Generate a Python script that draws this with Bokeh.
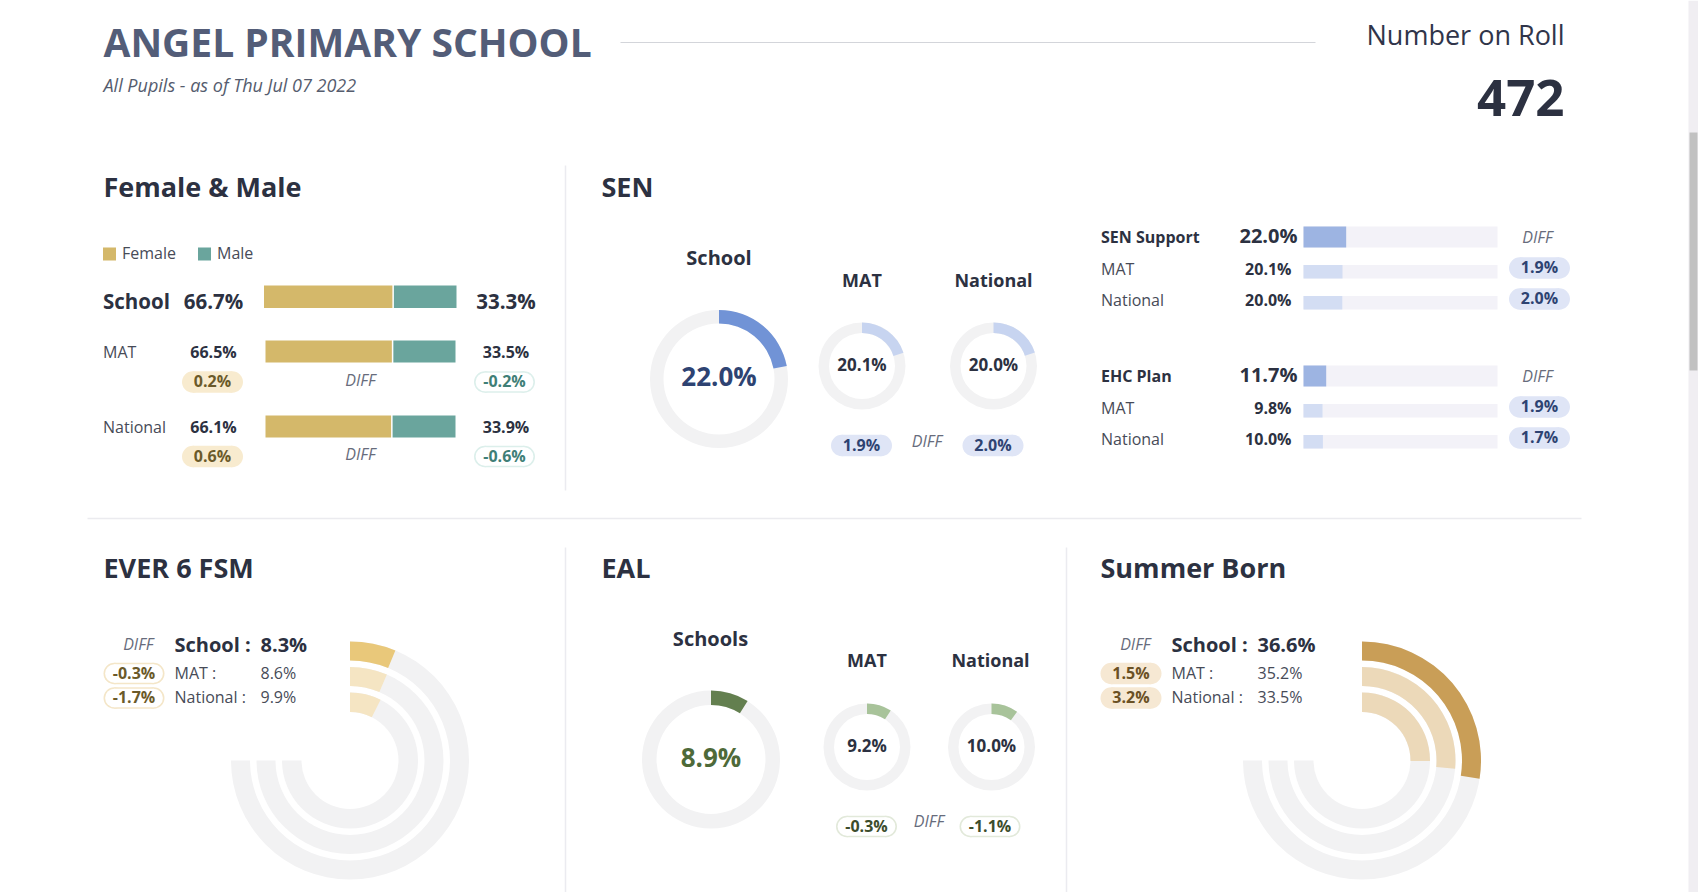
from bokeh.plotting import figure
from bokeh.models import Range1d
from bokeh.core.properties import value
from bokeh.embed import file_html
from bokeh.resources import INLINE
import math

# ---------------- data ----------------
school_name = "ANGEL PRIMARY SCHOOL"
subtitle = "All Pupils - as of Thu Jul 07 2022"
roll_label = "Number on Roll"
number_on_roll = 472

gender_groups = ["School", "MAT", "National"]
female_pct = [66.7, 66.5, 66.1]
male_pct = [33.3, 33.5, 33.9]
female_diff = [0.2, 0.6]
male_diff = [-0.2, -0.6]

sen_groups = ["School", "MAT", "National"]
sen_pct = [22.0, 20.1, 20.0]
sen_diff = [1.9, 2.0]

sen_support_groups = ["SEN Support", "MAT", "National"]
sen_support_pct = [22.0, 20.1, 20.0]
sen_support_diff = [1.9, 2.0]
ehc_groups = ["EHC Plan", "MAT", "National"]
ehc_pct = [11.7, 9.8, 10.0]
ehc_diff = [1.9, 1.7]

ring_groups = ["School :", "MAT :", "National :"]
fsm_pct = [8.3, 8.6, 9.9]
fsm_diff = [-0.3, -1.7]

eal_groups = ["Schools", "MAT", "National"]
eal_pct = [8.9, 9.2, 10.0]
eal_diff = [-0.3, -1.1]

summer_pct = [36.6, 35.2, 33.5]
summer_diff = [1.5, 3.2]

# ---------------- canvas ----------------
W, H = 1698, 892
FONT = value("Open Sans")
DARK = "#2c3141"
GRAY = "#474b57"
DIFFC = "#676c7c"
RING_BG = "#f2f2f3"
TXT_SHIFT = 1.5

p = figure(width=W, height=H, output_backend="svg", toolbar_location=None,
           x_range=Range1d(0, W), y_range=Range1d(0, H), min_border=0,
           background_fill_color="white", border_fill_color="white")
p.axis.visible = False
p.grid.visible = False
p.outline_line_color = None


def Y(y):
    return H - y


def fmt(v):
    return f"{v:.1f}%"


def txt(x, y, s, size, color=DARK, style="normal", align="left"):
    p.text(x=[x], y=[Y(y - TXT_SHIFT)], text=[s], text_font=FONT,
           text_font_size=f"{size}px", text_color=color, text_font_style=style,
           text_align=align, text_baseline="middle")


def box(x0, x1, y0, y1, color):
    p.quad(left=[x0], right=[x1], top=[Y(y0)], bottom=[Y(y1)],
           fill_color=color, line_color=None)


def pill(cx, cy, label, fill, text_color, border=None, w=61, h=21.5):
    r = h / 2
    layers = [(border, 0), (fill, 1.6)] if border else [(fill, 0)]
    for col, inset in layers:
        rr = r - inset
        box(cx - w / 2 + r, cx + w / 2 - r, cy - rr, cy + rr, col)
        p.circle(x=[cx - w / 2 + r, cx + w / 2 - r], y=[Y(cy), Y(cy)],
                 radius=rr, radius_units="screen", fill_color=col, line_color=None)
    txt(cx, cy + 0.5, label, 16, text_color, "bold", "center")


def donut(cx, cy, r_in, r_out, pct, color):
    p.annulus(x=[cx], y=[Y(cy)], inner_radius=r_in, outer_radius=r_out,
              inner_radius_units="screen", outer_radius_units="screen",
              fill_color=RING_BG, line_color=None)
    p.annular_wedge(x=[cx], y=[Y(cy)], inner_radius=r_in, outer_radius=r_out,
                    inner_radius_units="screen", outer_radius_units="screen",
                    start_angle=math.pi / 2,
                    end_angle=math.pi / 2 - pct / 100 * 2 * math.pi,
                    direction="clock", fill_color=color, line_color=None)


def gauge(cx, cy, pcts, colors):
    radii = [(100, 119), (74.5, 93.5), (48.5, 68)]
    for (ri, ro), v, col in zip(radii, pcts, colors):
        p.annular_wedge(x=[cx], y=[Y(cy)], inner_radius=ri, outer_radius=ro,
                        inner_radius_units="screen", outer_radius_units="screen",
                        start_angle=math.pi / 2, end_angle=math.pi,
                        direction="clock", fill_color=RING_BG, line_color=None)
        p.annular_wedge(x=[cx], y=[Y(cy)], inner_radius=ri, outer_radius=ro,
                        inner_radius_units="screen", outer_radius_units="screen",
                        start_angle=math.pi / 2,
                        end_angle=math.pi / 2 - v / 100 * 1.5 * math.pi,
                        direction="clock", fill_color=col, line_color=None)


# ---------------- header ----------------
txt(103, 42, school_name, 39, "#535d78", "bold")
p.line(x=[620, 1315], y=[Y(42), Y(42)], line_color="#d3d5da", line_width=1.2)
txt(103, 86, subtitle, 18, "#555c6e", "italic")
txt(1564, 35, roll_label, 27, "#30354a", "normal", "right")
txt(1564, 99, str(number_on_roll), 51, DARK, "bold", "right")

# separators
p.line(x=[87, 1581], y=[Y(518), Y(518)], line_color="#ebebef", line_width=1.5)
for x, y0, y1 in [(565, 165, 490), (565, 547, 892), (1066, 547, 892)]:
    p.line(x=[x, x], y=[Y(y0), Y(y1)], line_color="#ebebf0", line_width=1.5)

# section titles
for x, y, s in [(103, 187, "Female & Male"), (601, 187, "SEN"),
                (103, 568, "EVER 6 FSM"), (601, 568, "EAL"), (1100, 568, "Summer Born")]:
    txt(x, y, s, 27, DARK, "bold")

# ---------------- Female & Male ----------------
FEM, MAL = "#d4b86a", "#6aa59d"
box(102.5, 115.5, 247, 260, FEM)
txt(121.5, 254, "Female", 16, GRAY)
box(197.5, 210.5, 247, 260, MAL)
txt(216.5, 254, "Male", 16, GRAY)

rows_y = [301.5, 352.5, 427.5]
for i, (g, f, m) in enumerate(zip(gender_groups, female_pct, male_pct)):
    y = rows_y[i]
    big = i == 0
    if big:
        x0, x1, by0, by1 = 263.5, 456, 285, 307.5
    else:
        x0, x1, by0, by1 = 265, 455, y - 12.5, y + 9.5
    split = x0 + (x1 - x0) * f / (f + m)
    box(x0, split, by0, by1, FEM)
    box(split + 1.5, x1, by0, by1, MAL)
    txt(102.5, y, g, 20.5 if big else 16, DARK if big else GRAY, "bold" if big else "normal")
    txt(213, y, fmt(f), 20.5 if big else 16, DARK, "bold", "center")
    txt(505.5, y, fmt(m), 20.5 if big else 16, DARK, "bold", "center")

for i, (fd, md) in enumerate(zip(female_diff, male_diff)):
    y = [381.5, 456][i]
    pill(212, y, fmt(fd), "#f8ebcf", "#6b5a2a")
    txt(360, y - 1, "DIFF", 16, DIFFC, "italic", "center")
    pill(504, y, fmt(md), "white", "#3f7f77", border="#dcefeb")

# ---------------- SEN donuts ----------------
sen_pos = [(718.5, 378.5), (861.5, 365.5), (993, 365.5)]
sen_label_y = [258, 281, 281]
for i, (g, v) in enumerate(zip(sen_groups, sen_pct)):
    cx, cy = sen_pos[i]
    if i == 0:
        donut(cx, cy, 55.5, 69, v, "#7193d6")
        txt(cx, sen_label_y[i], g, 20, DARK, "bold", "center")
        txt(cx, cy - 1.5, fmt(v), 26, "#2e4372", "bold", "center")
    else:
        donut(cx, cy, 33, 43.5, v, "#c7d4f0")
        txt(cx, sen_label_y[i], g, 18, DARK, "bold", "center")
        txt(cx, cy - 0.5, fmt(v), 17, DARK, "bold", "center")
for i, d in enumerate(sen_diff):
    pill(sen_pos[i + 1][0] - 0.5, 445, fmt(d), "#dfe5f6", "#2e4372")
txt(926.5, 441.5, "DIFF", 16, DIFFC, "italic", "center")

# ---------------- SEN bars ----------------
BX0, BX1 = 1303, 1497


def sen_block(top, groups, pcts, diffs):
    ys = [top, top + 33, top + 64]
    for i, (g, v) in enumerate(zip(groups, pcts)):
        y = ys[i]
        if i == 0:
            box(BX0, BX1, y - 10.5, y + 10.5, "#f3f2f8")
            box(BX0, BX0 + (BX1 - BX0) * v / 100, y - 10.5, y + 10.5, "#9db4e2")
            txt(1100.5, y + 1, g, 16, DARK, "bold")
            txt(1297, y - 0.5, fmt(v), 20, DARK, "bold", "right")
            txt(1537, y + 1, "DIFF", 16, DIFFC, "italic", "center")
        else:
            box(BX0, BX1, y - 5, y + 8.5, "#f3f2f8")
            box(BX0, BX0 + (BX1 - BX0) * v / 100, y - 5, y + 8.5, "#d3ddf3")
            txt(1100.5, y, g, 16, GRAY)
            txt(1291, y, fmt(v), 16, DARK, "bold", "right")
    for j, d in enumerate(diffs):
        pill(1539, ys[j + 1] - 2, fmt(d), "#dfe5f6", "#2e4372")


sen_block(236.5, sen_support_groups, sen_support_pct, sen_support_diff)
sen_block(375.5, ehc_groups, ehc_pct, ehc_diff)

# ---------------- ring gauges (FSM, Summer Born) ----------------


def ring_panel(sx, cx, pcts, diffs, colors, pill_fill, pill_border, pill_text):
    txt(sx + 50, 645, "DIFF", 16, DIFFC, "italic", "right")
    ys = [645, 673.5, 698]
    for i, (g, v) in enumerate(zip(ring_groups, pcts)):
        if i == 0:
            txt(sx + 71, ys[i], g, 20, DARK, "bold")
            txt(sx + 157, ys[i], fmt(v), 20, DARK, "bold")
        else:
            txt(sx + 71, ys[i], g, 16, GRAY)
            txt(sx + 157, ys[i], fmt(v), 16, GRAY)
    for j, d in enumerate(diffs):
        pill(sx + 30.5, ys[j + 1] - 0.5, fmt(d), pill_fill, pill_text, border=pill_border)
    gauge(cx, 760, pcts, colors)


ring_panel(103, 349.5, fsm_pct, fsm_diff, ["#e9c87a", "#f5e5c3", "#f5e5c3"],
           "white", "#f4e6c8", "#6b5a2a")
ring_panel(1100, 1361.5, summer_pct, summer_diff, ["#c99e57", "#ecd9b9", "#ecd9b9"],
           "#f6e8d3", None, "#6b5124")

# ---------------- EAL donuts ----------------
eal_pos = [(710.5, 759), (866.5, 746.5), (991, 746.5)]
eal_label = [(710, 639), (866.5, 661), (990, 661)]
for i, (g, v) in enumerate(zip(eal_groups, eal_pct)):
    cx, cy = eal_pos[i]
    lx, ly = eal_label[i]
    if i == 0:
        donut(cx, cy, 54.5, 69, v, "#637f4f")
        txt(lx, ly, g, 20, DARK, "bold", "center")
        txt(cx, cy - 1.5, fmt(v), 26, "#4e6a39", "bold", "center")
    else:
        donut(cx, cy, 33, 43.5, v, "#a8c39a")
        txt(lx, ly, g, 18, DARK, "bold", "center")
        txt(cx, cy - 0.5, fmt(v), 17, DARK, "bold", "center")
for i, d in enumerate(eal_diff):
    pill([866, 989.5][i], 826, fmt(d), "white", "#3c4d2c", border="#e2e9da")
txt(928.5, 821.5, "DIFF", 16, DIFFC, "italic", "center")

# ---------------- scrollbar (as in the screenshot) ----------------
box(1688, W, 0, H, "#f0eef2")
box(1689, W - 1, 132, 370, "#c1c1c1")

open("out.html", "w").write(file_html(p, INLINE))
